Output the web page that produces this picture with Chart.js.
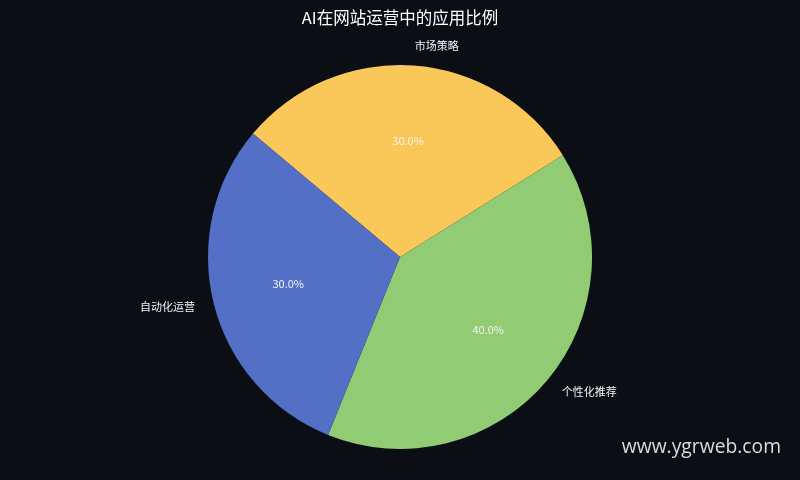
<!DOCTYPE html>
<html>
<head>
<meta charset="utf-8">
<script src="https://cdn.jsdelivr.net/npm/chart.js@4"></script>
<style>
  html, body { margin: 0; padding: 0; background: #0b0e14; }
  #wrap { width: 800px; height: 480px; position: relative; }
</style>
</head>
<body>
<div id="wrap"><canvas id="pieChart" width="800" height="480"></canvas></div>
<script>
// matplotlib order (counter-clockwise from 140deg)
const categories = ['自动化运营', '个性化推荐', '市场策略'];
const shares = [30, 40, 30];
const sliceColors = ['#5470c6', '#91cc75', '#fac858'];
const chartTitle = 'AI在网站运营中的应用比例';
const watermark = 'www.ygrweb.com';

// Chart.js draws clockwise, so reverse to keep the same placement
const labels = categories.slice().reverse();
const values = shares.slice().reverse();
const colors = sliceColors.slice().reverse();

const font = '"Noto Sans CJK SC", "DejaVu Sans", sans-serif';

const pieText = {
    id: 'pieText',
    afterDraw(chart) {
        const ctx = chart.ctx;
        const meta = chart.getDatasetMeta(0);
        const total = values.reduce((a, b) => a + b, 0);
        ctx.save();
        ctx.textBaseline = 'middle';
        meta.data.forEach((arc, i) => {
            const p = arc.getProps(['x', 'y', 'startAngle', 'endAngle', 'outerRadius'], true);
            const mid = (p.startAngle + p.endAngle) / 2;
            const cx = Math.cos(mid), cy = Math.sin(mid);
            // percentage inside
            ctx.fillStyle = '#f4f4f4';
            ctx.font = '11px ' + font;
            ctx.textAlign = 'center';
            ctx.fillText((values[i] / total * 100).toFixed(1) + '%',
                p.x + cx * p.outerRadius * 0.6, p.y + cy * p.outerRadius * 0.6 - 1);
            // category outside
            ctx.textAlign = cx >= 0 ? 'left' : 'right';
            ctx.fillText(labels[i], p.x + cx * p.outerRadius * 1.1, p.y + cy * p.outerRadius * 1.1 - 1);
        });
        ctx.fillStyle = '#ffffff';
        ctx.font = '16.5px ' + font;
        ctx.textAlign = 'center';
        ctx.fillText(chartTitle, 400, 18);
        ctx.fillStyle = '#dcdcdc';
        ctx.font = '19.3px "Open Sans", sans-serif';
        ctx.textAlign = 'right';
        ctx.fillText(watermark, 781, 448);
        ctx.restore();
    }
};

new Chart(document.getElementById('pieChart').getContext('2d'), {
    type: 'pie',
    data: {
        labels: labels,
        datasets: [{
            data: values,
            backgroundColor: colors,
            borderWidth: 0
        }]
    },
    options: {
        responsive: false,
        animation: false,
        devicePixelRatio: 1,
        rotation: -50,
        layout: { padding: { top: 65, bottom: 31 } },
        plugins: {
            legend: { display: false },
            tooltip: { enabled: false }
        }
    },
    plugins: [pieText]
});
</script>
</body>
</html>
